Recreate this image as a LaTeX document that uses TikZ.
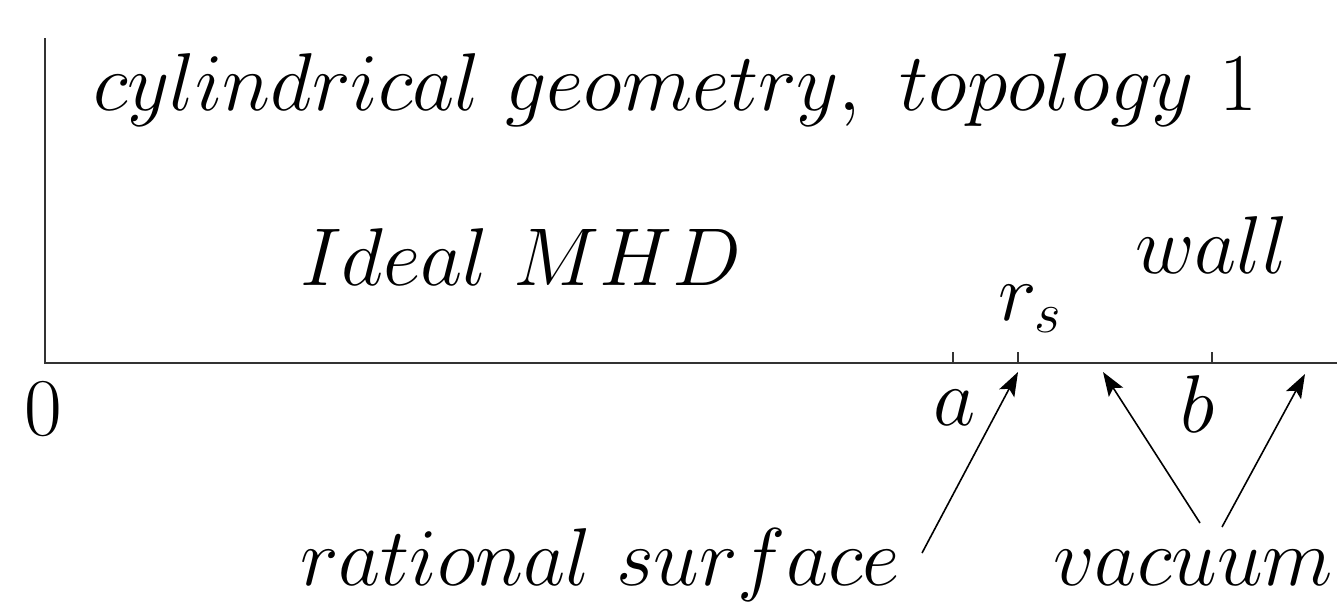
\documentclass[tikz,border=0pt]{standalone}
\usepackage{fix-cm}
\usetikzlibrary{arrows.meta}
\begin{document}
\begin{tikzpicture}[x=1pt,y=1pt,
  lbl/.style={inner sep=0pt, anchor=base west, font=\fontsize{82}{96}\selectfont},
  axis/.style={line width=2pt, draw=black!80},
  tick/.style={line width=1.2pt, draw=black!80},
  pointer/.style={line width=1.6pt, -{Stealth[length=24pt,width=17pt,inset=5pt]}}]
\useasboundingbox (0,0) rectangle (1337,-613);
\coordinate (O) at (45,-363);
\coordinate (Ytop) at (45,-38);
\coordinate (Xend) at (1337,-363);
\draw[axis] (Ytop) -- (O) -- (Xend);
\coordinate (ta) at (953,-363);
\coordinate (trs) at (1018,-363);
\coordinate (tb) at (1212,-363);
\draw[tick] (ta) -- ++(0,11);
\draw[tick] (trs) -- ++(0,11);
\draw[tick] (tb) -- ++(0,11);
\node[lbl] (title) at (93,-110) {$cylindrical\ geometry,\ topology\ 1$};
\node[lbl] (ideal) at (300,-285) {$Ideal\ MHD$};
\node[lbl] (wall) at (1135,-273) {$wall$};
\node[lbl] (rs) at (998,-320) {$r_s$};
\node[lbl, anchor=base] (zero) at (43,-435) {$0$};
\node[lbl, anchor=base] (a) at (955,-425) {$a$};
\node[lbl, anchor=base] (b) at (1198,-432) {$b$};
\node[lbl] (rat) at (300,-585) {$rational\ surface$};
\node[lbl] (vac) at (1053,-585) {$vacuum$};
\coordinate (p1s) at (922,-553);
\coordinate (p1e) at (1018,-372);
\coordinate (p2s) at (1200,-523);
\coordinate (p2e) at (1103,-372);
\coordinate (p3s) at (1222,-527);
\coordinate (p3e) at (1305,-374);
\draw[pointer] (p1s) -- (p1e);
\draw[pointer] (p2s) -- (p2e);
\draw[pointer] (p3s) -- (p3e);
\end{tikzpicture}
\end{document}
